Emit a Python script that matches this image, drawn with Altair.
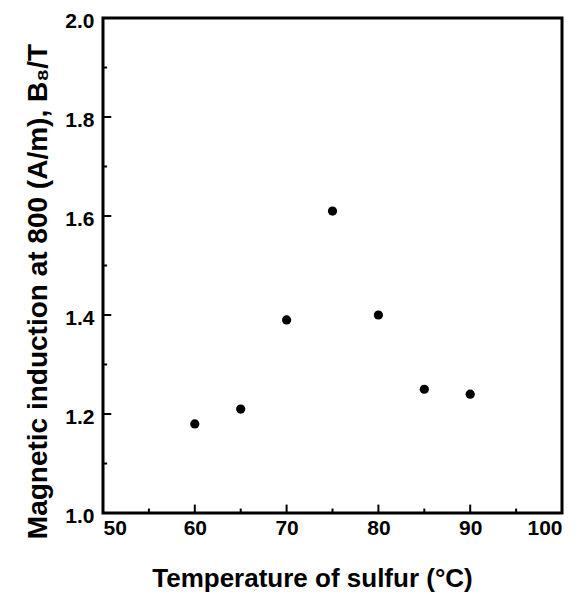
import altair as alt
import pandas as pd

temps = [60, 65, 70, 75, 80, 85, 90]
induction = [1.18, 1.21, 1.39, 1.61, 1.40, 1.25, 1.24]

x_major = [50, 60, 70, 80, 90, 100]
x_minor = [55, 65, 75, 85, 95]
y_major = [1.0, 1.2, 1.4, 1.6, 1.8, 2.0]
y_minor = [1.1, 1.3, 1.5, 1.7, 1.9]

FONT = "Liberation Sans"

df = pd.DataFrame({"t": temps, "b": induction})
xs = alt.Scale(domain=[50, 100], nice=False, zero=False)
ys = alt.Scale(domain=[1.0, 2.0], nice=False, zero=False)

x_axis = alt.Axis(values=x_major, format="d", ticks=False, domain=False, grid=False,
                  labelFont=FONT, labelFontSize=21, labelFontWeight="bold", labelColor="black",
                  labelPadding=4, title="Temperature of sulfur (°C)", titleFont=FONT,
                  titleFontSize=26, titleFontWeight="bold", titleColor="black", titlePadding=27,
                  titleX=209)
y_axis = alt.Axis(values=y_major, format=".1f", ticks=False, domain=False, grid=False,
                  labelFont=FONT, labelFontSize=21, labelFontWeight="bold", labelColor="black",
                  labelPadding=9, labelOffset=3,
                  title="Magnetic induction at 800 (A/m), B₈/T", titleFont=FONT,
                  titleFontSize=28, titleFontWeight="bold", titleColor="black", titlePadding=12,
                  titleY=273)

points = alt.Chart(df).mark_circle(size=85, color="black", opacity=1).encode(
    x=alt.X("t:Q", scale=xs, axis=x_axis),
    y=alt.Y("b:Q", scale=ys, axis=y_axis),
)

def xticks(vals, length):
    d = pd.DataFrame({"v": vals})
    return alt.Chart(d).mark_rule(color="black", strokeWidth=2).encode(
        x=alt.X("v:Q", scale=xs),
        y=alt.datum(1.0, scale=ys),
        y2=alt.datum(1.0 + length),
    )

def yticks(vals, length):
    d = pd.DataFrame({"v": vals})
    return alt.Chart(d).mark_rule(color="black", strokeWidth=2).encode(
        y=alt.Y("v:Q", scale=ys),
        x=alt.datum(50, scale=xs),
        x2=alt.datum(50 + length),
    )

chart = alt.layer(
    xticks(x_major, 0.017), xticks(x_minor, 0.009),
    yticks(y_major, 0.9), yticks(y_minor, 0.45),
    points,
).properties(
    width=459, height=495,
    background="white",
    autosize=alt.AutoSizeParams(type="none"),
    padding={"left": 95, "top": 10, "right": 9, "bottom": 80},
).configure_view(stroke="black", strokeWidth=3)

chart.save("out.html", embed_options={"renderer": "svg", "actions": False})
